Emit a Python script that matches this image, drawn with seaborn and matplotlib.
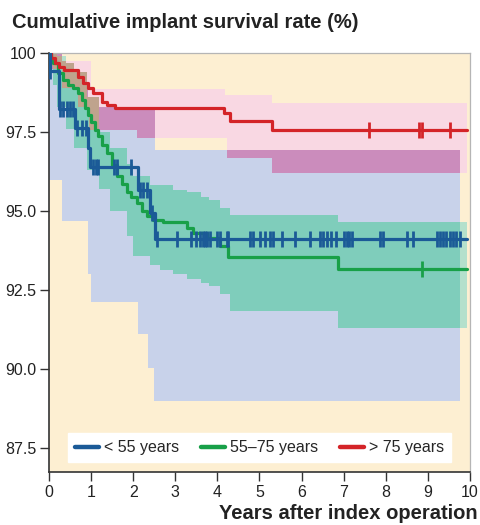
import numpy as np
import pandas as pd
import matplotlib
matplotlib.use("Agg")
import matplotlib.pyplot as plt
import matplotlib.colors as mcolors
import seaborn as sns

# ---------------- data ----------------
groups = ["< 55 years", "55–75 years", "> 75 years"]
line_colors = ["#1b5a97", "#18a048", "#d42428"]

x_ticks = [0, 1, 2, 3, 4, 5, 6, 7, 8, 9, 10]
y_ticks = [87.5, 90.0, 92.5, 95.0, 97.5, 100.0]
y_tick_labels = ["87.5", "90.0", "92.5", "95.0", "97.5", "100"]

# Kaplan-Meier curves (years, survival %)
young_t = [0, 0.03, 0.24, 0.62, 0.93, 0.97, 2.12, 2.40, 2.52, 9.94]
young_s = [100, 99.44, 98.22, 97.63, 97.0, 96.40, 95.68, 94.94, 94.12, 94.12]
mid_t = [0, 0.05, 0.10, 0.22, 0.34, 0.46, 0.58, 0.70, 0.78, 0.86, 0.93, 1.01,
         1.09, 1.17, 1.25, 1.37, 1.49, 1.61, 1.73, 1.85, 1.96, 2.08, 2.20,
         2.32, 2.48, 2.72, 3.27, 3.43, 3.75, 4.06, 4.26, 6.86, 9.94]
mid_s = [100, 99.85, 99.67, 99.36, 99.15, 98.99, 98.89, 98.73, 98.52, 98.26,
         98.04, 97.83, 97.57, 97.36, 97.10, 96.84, 96.45, 96.10, 95.85, 95.62,
         95.45, 95.26, 95.0, 94.84, 94.73, 94.65, 94.47, 94.31, 94.15, 93.89,
         93.54, 93.17, 93.17]
old_t = [0, 0.05, 0.15, 0.25, 0.35, 0.68, 0.80, 0.92, 1.04, 1.25, 1.37, 1.57,
         4.16, 4.30, 5.29, 9.94]
old_s = [100, 99.85, 99.70, 99.55, 99.46, 99.25, 99.04, 98.89, 98.73, 98.46,
         98.36, 98.26, 98.10, 97.85, 97.55, 97.55]

# censored observations (years)
young_cens = [0.03, 0.26, 0.34, 0.42, 0.50, 0.58, 0.66, 0.78, 0.88, 1.05, 1.12,
              1.17, 1.54, 1.61, 1.94, 2.16, 2.24, 2.32, 2.44, 2.56, 3.03, 3.37,
              3.50, 3.58, 3.65, 3.71, 3.76, 3.82, 4.00, 4.06, 4.22, 4.26, 4.77,
              4.84, 5.01, 5.13, 5.25, 5.33, 5.53, 5.84, 6.20, 6.44, 6.52, 6.61,
              6.69, 6.83, 7.01, 7.07, 7.13, 7.19, 7.86, 7.94, 8.50, 8.65, 9.21,
              9.29, 9.37, 9.44, 9.52, 9.60, 9.68, 9.76]
mid_cens = [8.85]
old_cens = [7.61, 8.79, 8.85, 9.52]

# 95% confidence bands (segment starts, lower, upper, end)
young_ci_t = [0, 0.30, 0.60, 0.93, 1.01, 2.12, 2.35, 2.50, 2.52]
young_ci_lo = [96.0, 94.7, 94.7, 93.0, 92.14, 91.1, 90.05, 89.0, 89.0]
young_ci_hi = [100, 99.3, 98.9, 98.3, 98.3, 98.3, 98.3, 98.3, 96.94]
young_ci_end = 9.77

mid_ci_t = [0, 0.10, 0.20, 0.40, 0.60, 0.90, 1.20, 1.45, 1.85, 2.00, 2.40,
            2.64, 2.95, 3.27, 3.60, 3.80, 4.06, 4.30, 6.86]
mid_ci_lo = [99.6, 99.0, 98.3, 97.6, 97.0, 96.31, 95.7, 95.0, 94.2, 93.57,
             93.3, 93.15, 93.0, 92.84, 92.73, 92.63, 92.37, 91.83, 91.31]
mid_ci_hi = [100, 100, 99.9, 99.7, 99.4, 98.6, 97.5, 97.0, 96.5, 96.1, 95.84,
             95.84, 95.68, 95.6, 95.45, 95.35, 95.1, 94.89, 94.65]
mid_ci_end = 9.92

old_ci_t = [0, 0.30, 0.70, 0.95, 1.00, 2.08, 4.18, 4.22, 5.29]
old_ci_lo = [99.5, 98.9, 98.3, 97.57, 97.57, 97.31, 97.31, 96.68, 96.2]
old_ci_hi = [100, 99.75, 99.75, 99.75, 98.85, 98.85, 98.68, 98.68, 98.43]
old_ci_end = 9.94

# band colours
bg_color = "#fdefd2"
blue_band = "#c8d2ea"
pink_band = "#f9d8e3"
purple_band = "#cb8cbc"
green_band = "#b4e0cc"
teal_band = "#7fcdbb"
tan_band = "#bfa38d"

# ---------------- helpers ----------------
def step_eval(t, v, end, x):
    t = np.asarray(t, float)
    idx = np.clip(np.searchsorted(t, x, side="right") - 1, 0, len(v) - 1)
    vals = np.asarray(v, float)[idx]
    valid = (x >= t[0]) & (x < end)
    return vals, valid

grid = np.unique(np.concatenate([young_ci_t, mid_ci_t, old_ci_t,
                                 [young_ci_end, mid_ci_end, old_ci_end]]))

def band(t, lo, hi, end):
    l, v = step_eval(t, lo, end, grid)
    h, _ = step_eval(t, hi, end, grid)
    return l, h, v

bands = {
    "young": band(young_ci_t, young_ci_lo, young_ci_hi, young_ci_end),
    "mid": band(mid_ci_t, mid_ci_lo, mid_ci_hi, mid_ci_end),
    "old": band(old_ci_t, old_ci_lo, old_ci_hi, old_ci_end),
}

def fill(ax, lo, hi, mask, color):
    hi2 = np.where(mask & (hi > lo), hi, lo)
    ax.fill_between(grid, lo, hi2, step="post", color=color, lw=0,
                    edgecolor="none", zorder=1)

def overlap(a, b):
    la, ha, va = bands[a]
    lb, hb, vb = bands[b]
    return np.maximum(la, lb), np.minimum(ha, hb), va & vb

# ---------------- figure ----------------
sns.set_theme(style="white")
plt.rcParams["font.family"] = ["Liberation Sans", "DejaVu Sans"]

fig = plt.figure(figsize=(4.8, 5.25), dpi=100)
ax = fig.add_axes([0.102, 0.101, 0.979 - 0.102, 0.899 - 0.101])
ax.set_facecolor(bg_color)

fill(ax, *bands["young"], blue_band)
fill(ax, *bands["old"], pink_band)
fill(ax, *overlap("young", "old"), purple_band)
fill(ax, *bands["mid"], green_band)
fill(ax, *overlap("mid", "young"), teal_band)
fill(ax, *overlap("mid", "old"), tan_band)

curves = pd.concat([
    pd.DataFrame({"t": young_t, "s": young_s, "group": groups[0]}),
    pd.DataFrame({"t": mid_t, "s": mid_s, "group": groups[1]}),
    pd.DataFrame({"t": old_t, "s": old_s, "group": groups[2]}),
], ignore_index=True)

sns.lineplot(data=curves, x="t", y="s", hue="group", hue_order=groups,
             palette=line_colors, estimator=None, sort=False,
             drawstyle="steps-post", linewidth=2.3, ax=ax, zorder=3)

for ln in ax.get_lines():
    if mcolors.same_color(ln.get_color(), line_colors[0]):
        ln.set_zorder(3.5)

for cens, t, s, c, z in [(young_cens, young_t, young_s, line_colors[0], 4.5),
                         (mid_cens, mid_t, mid_s, line_colors[1], 4),
                         (old_cens, old_t, old_s, line_colors[2], 4)]:
    cx = np.asarray(cens, float)
    cy, _ = step_eval(t, s, 99, cx)
    ax.plot(cx, cy, ls="none", marker="|", ms=11, mew=2.0, color=c, zorder=z)

ax.set_xlim(0, 10)
ax.set_ylim(86.75, 100)
ax.set_xticks(x_ticks)
ax.set_xticklabels([str(v) for v in x_ticks])
ax.set_yticks(y_ticks)
ax.set_yticklabels(y_tick_labels)
ax.set_xlabel("")
ax.set_ylabel("")
ax.tick_params(axis="both", direction="out", length=6.5, width=1.0,
               color="#333333", labelsize=11.5, labelcolor="#222222",
               left=True, bottom=True)
ax.tick_params(axis="y", pad=2.5)
ax.tick_params(axis="x", pad=3)
for side in ["left", "bottom"]:
    ax.spines[side].set_color("#333333")
    ax.spines[side].set_linewidth(1.2)
for side in ["top", "right"]:
    ax.spines[side].set_color("#b5b5b5")
    ax.spines[side].set_linewidth(0.9)

handles, labels = ax.get_legend_handles_labels()
if ax.get_legend() is not None:
    ax.get_legend().remove()
leg = ax.legend(handles[:3], labels[:3], loc="center",
                bbox_to_anchor=(0.5, 0.058), ncol=3, frameon=True,
                fancybox=False, framealpha=1, facecolor="white",
                edgecolor="white", fontsize=11.5, handlelength=1.5,
                handletextpad=0.3, columnspacing=1.4, borderpad=0.45)
for h in leg.get_lines():
    h.set_linewidth(3.2)
leg.set_zorder(5)

fig.text(0.025, 0.957, "Cumulative implant survival rate (%)",
         fontsize=14.5, fontweight="bold", color="#222222", va="center",
         ha="left")
fig.text(0.996, 0.021, "Years after index operation", fontsize=14.5,
         fontweight="bold", color="#222222", va="center", ha="right")

fig.savefig("out.png", dpi=100)
